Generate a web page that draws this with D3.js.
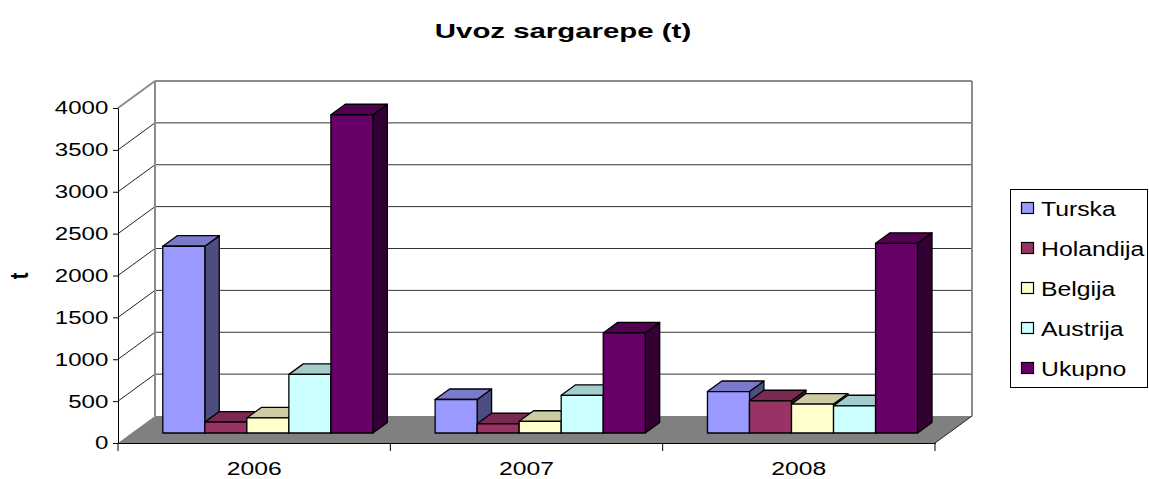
<!DOCTYPE html>
<html>
<head>
<meta charset="utf-8">
<script src="https://cdn.jsdelivr.net/npm/d3@7"></script>
<style>
  body { margin: 0; background: #fff; }
  svg { font-family: "Liberation Sans", Arial, sans-serif; display: block; }
</style>
</head>
<body>
<svg id="chart" width="1149" height="479"></svg>
<script>
// data
const years = ["2006", "2007", "2008"];
const series = ["Turska", "Holandija", "Belgija", "Austrija", "Ukupno"];
const turska = [2230, 400, 495];
const holandija = [130, 110, 385];
const belgija = [180, 140, 345];
const austrija = [700, 450, 325];
const ukupno = [3800, 1195, 2265];
const yTicks = [0, 500, 1000, 1500, 2000, 2500, 3000, 3500, 4000];
const colors = ["#9999FF", "#993366", "#FFFFCC", "#CCFFFF", "#660066"];

const values = [turska, holandija, belgija, austrija, ukupno];

const svg = d3.select("#chart");

// front plane scales + depth offset for the 3d look
const x = d3.scaleBand().domain(years).range([118, 935]);
const xs = d3.scaleBand().domain(series).range([0, x.bandwidth()]).paddingOuter(0.74);
const y = d3.scaleLinear().domain([0, 4000]).range([443, 108]);
const DX = 37, DY = 27;
const z0 = 0.37, z1 = 0.76;

function p(xf, v, z) { return [xf + DX * z, y(v) - DY * z]; }
function poly(pts) { return pts.map(d => d.join(",")).join(" "); }
function shade(c, k) {
  const r = d3.rgb(c);
  return d3.rgb(r.r * k, r.g * k, r.b * k).formatHex();
}

const x0 = x.range()[0], x1 = x.range()[1];

// left side wall
svg.append("polygon")
  .attr("points", poly([p(x0, 0, 0), p(x0, 0, 1), p(x0, 4000, 1), p(x0, 4000, 0)]))
  .attr("fill", "#fff");

// back wall
svg.append("polygon")
  .attr("points", poly([p(x0, 0, 1), p(x1, 0, 1), p(x1, 4000, 1), p(x0, 4000, 1)]))
  .attr("fill", "#fff");

// gridlines
yTicks.filter(v => v > 0 && v < 4000).forEach(v => {
  const a = p(x0, v, 1), b = p(x1, v, 1);
  svg.append("line").attr("x1", a[0]).attr("y1", a[1]).attr("x2", b[0]).attr("y2", b[1])
    .attr("stroke", "#333").attr("stroke-width", 1);
  const c = p(x0, v, 0);
  svg.append("line").attr("x1", c[0]).attr("y1", c[1]).attr("x2", a[0]).attr("y2", a[1])
    .attr("stroke", "#222").attr("stroke-width", 1);
});

// wall borders (gray)
[[p(x0, 4000, 0), p(x0, 4000, 1)], [p(x0, 4000, 1), p(x1, 4000, 1)],
 [p(x1, 4000, 1), p(x1, 0, 1)], [p(x0, 4000, 1), p(x0, 0, 1)]].forEach(([a, b]) => {
  svg.append("line").attr("x1", a[0]).attr("y1", a[1]).attr("x2", b[0]).attr("y2", b[1])
    .attr("stroke", "#8c8c8c").attr("stroke-width", 2);
});

// floor
svg.append("polygon")
  .attr("points", poly([p(x0, 0, 0), p(x1, 0, 0), p(x1, 0, 1), p(x0, 0, 1)]))
  .attr("fill", "#808080");
{
  const a = p(x1, 0, 0), b = p(x1, 0, 1);
  svg.append("line").attr("x1", a[0]).attr("y1", a[1]).attr("x2", b[0]).attr("y2", b[1])
    .attr("stroke", "#222").attr("stroke-width", 1);
}

// bars, left to right so each front face covers the previous side face
const bars = svg.append("g");
years.forEach((yr, i) => {
  series.forEach((s, j) => {
    const v = values[j][i];
    const bx0 = x(yr) + xs(s), bx1 = bx0 + xs.bandwidth();
    const g = bars.append("g")
      .attr("stroke", "#000").attr("stroke-width", 1.3).attr("stroke-linejoin", "round");
    g.append("polygon")
      .attr("points", poly([p(bx1, 0, z0), p(bx1, 0, z1), p(bx1, v, z1), p(bx1, v, z0)]))
      .attr("fill", shade(colors[j], 0.5));
    g.append("polygon")
      .attr("points", poly([p(bx0, v, z0), p(bx1, v, z0), p(bx1, v, z1), p(bx0, v, z1)]))
      .attr("fill", shade(colors[j], 0.8));
    g.append("polygon")
      .attr("points", poly([p(bx0, 0, z0), p(bx1, 0, z0), p(bx1, v, z0), p(bx0, v, z0)]))
      .attr("fill", colors[j]);
  });
});

// y axis
const yAxis = svg.append("g")
  .attr("transform", "translate(" + x0 + ",0)")
  .call(d3.axisLeft(y).tickValues(yTicks).tickFormat(d3.format("d"))
    .tickSize(5).tickSizeOuter(0).tickPadding(2.5));
yAxis.select(".domain").attr("stroke", "#000");
yAxis.selectAll("line").attr("stroke", "#000");
yAxis.selectAll("text")
  .attr("font-size", 18.5).attr("fill", "#000")
  .attr("font-family", "Liberation Sans, Arial, sans-serif")
  .attr("transform", "scale(1.3,1)");

// x axis
const xAxis = svg.append("g")
  .attr("transform", "translate(0," + y(0) + ")")
  .call(d3.axisBottom(x).tickSize(0).tickPadding(19));
xAxis.select(".domain").attr("stroke", "#000");
xAxis.selectAll("text")
  .attr("font-size", 19).attr("fill", "#000")
  .attr("font-family", "Liberation Sans, Arial, sans-serif")
  .attr("transform", "scale(1.3,1)");
xAxis.selectAll(".tick").each(function () {
  const t = d3.select(this);
  const tx = +t.attr("transform").match(/translate\(([^,]+)/)[1];
  t.attr("transform", "translate(0,0)");
  t.select("text").attr("x", tx / 1.3);
});
years.concat([null]).forEach((yr) => {
  const bx = yr ? x(yr) : x1;
  xAxis.append("line").attr("x1", bx).attr("x2", bx).attr("y1", 0).attr("y2", 8)
    .attr("stroke", "#000");
});

// title
svg.append("text")
  .attr("transform", "translate(563,38) scale(1.4,1)")
  .attr("text-anchor", "middle")
  .attr("font-size", 21).attr("font-weight", "bold")
  .text("Uvoz sargarepe (t)");

// y axis title
svg.append("text")
  .attr("transform", "translate(28,276) scale(1.3,1) rotate(-90)")
  .attr("text-anchor", "middle")
  .attr("font-size", 20).attr("font-weight", "bold")
  .text("t");

// legend
const legend = svg.append("g");
legend.append("rect")
  .attr("x", 1010.5).attr("y", 189.5).attr("width", 137).attr("height", 198)
  .attr("fill", "#fff").attr("stroke", "#000");
series.forEach((s, j) => {
  const cy = 208 + j * 40;
  legend.append("rect")
    .attr("x", 1021.5).attr("y", cy - 5.5).attr("width", 12).attr("height", 11)
    .attr("fill", colors[j]).attr("stroke", "#000").attr("stroke-width", 1.2);
  legend.append("text")
    .attr("transform", "translate(1041," + (cy + 7.5) + ") scale(1.18,1)")
    .attr("font-size", 21)
    .text(s);
});
</script>
</body>
</html>
